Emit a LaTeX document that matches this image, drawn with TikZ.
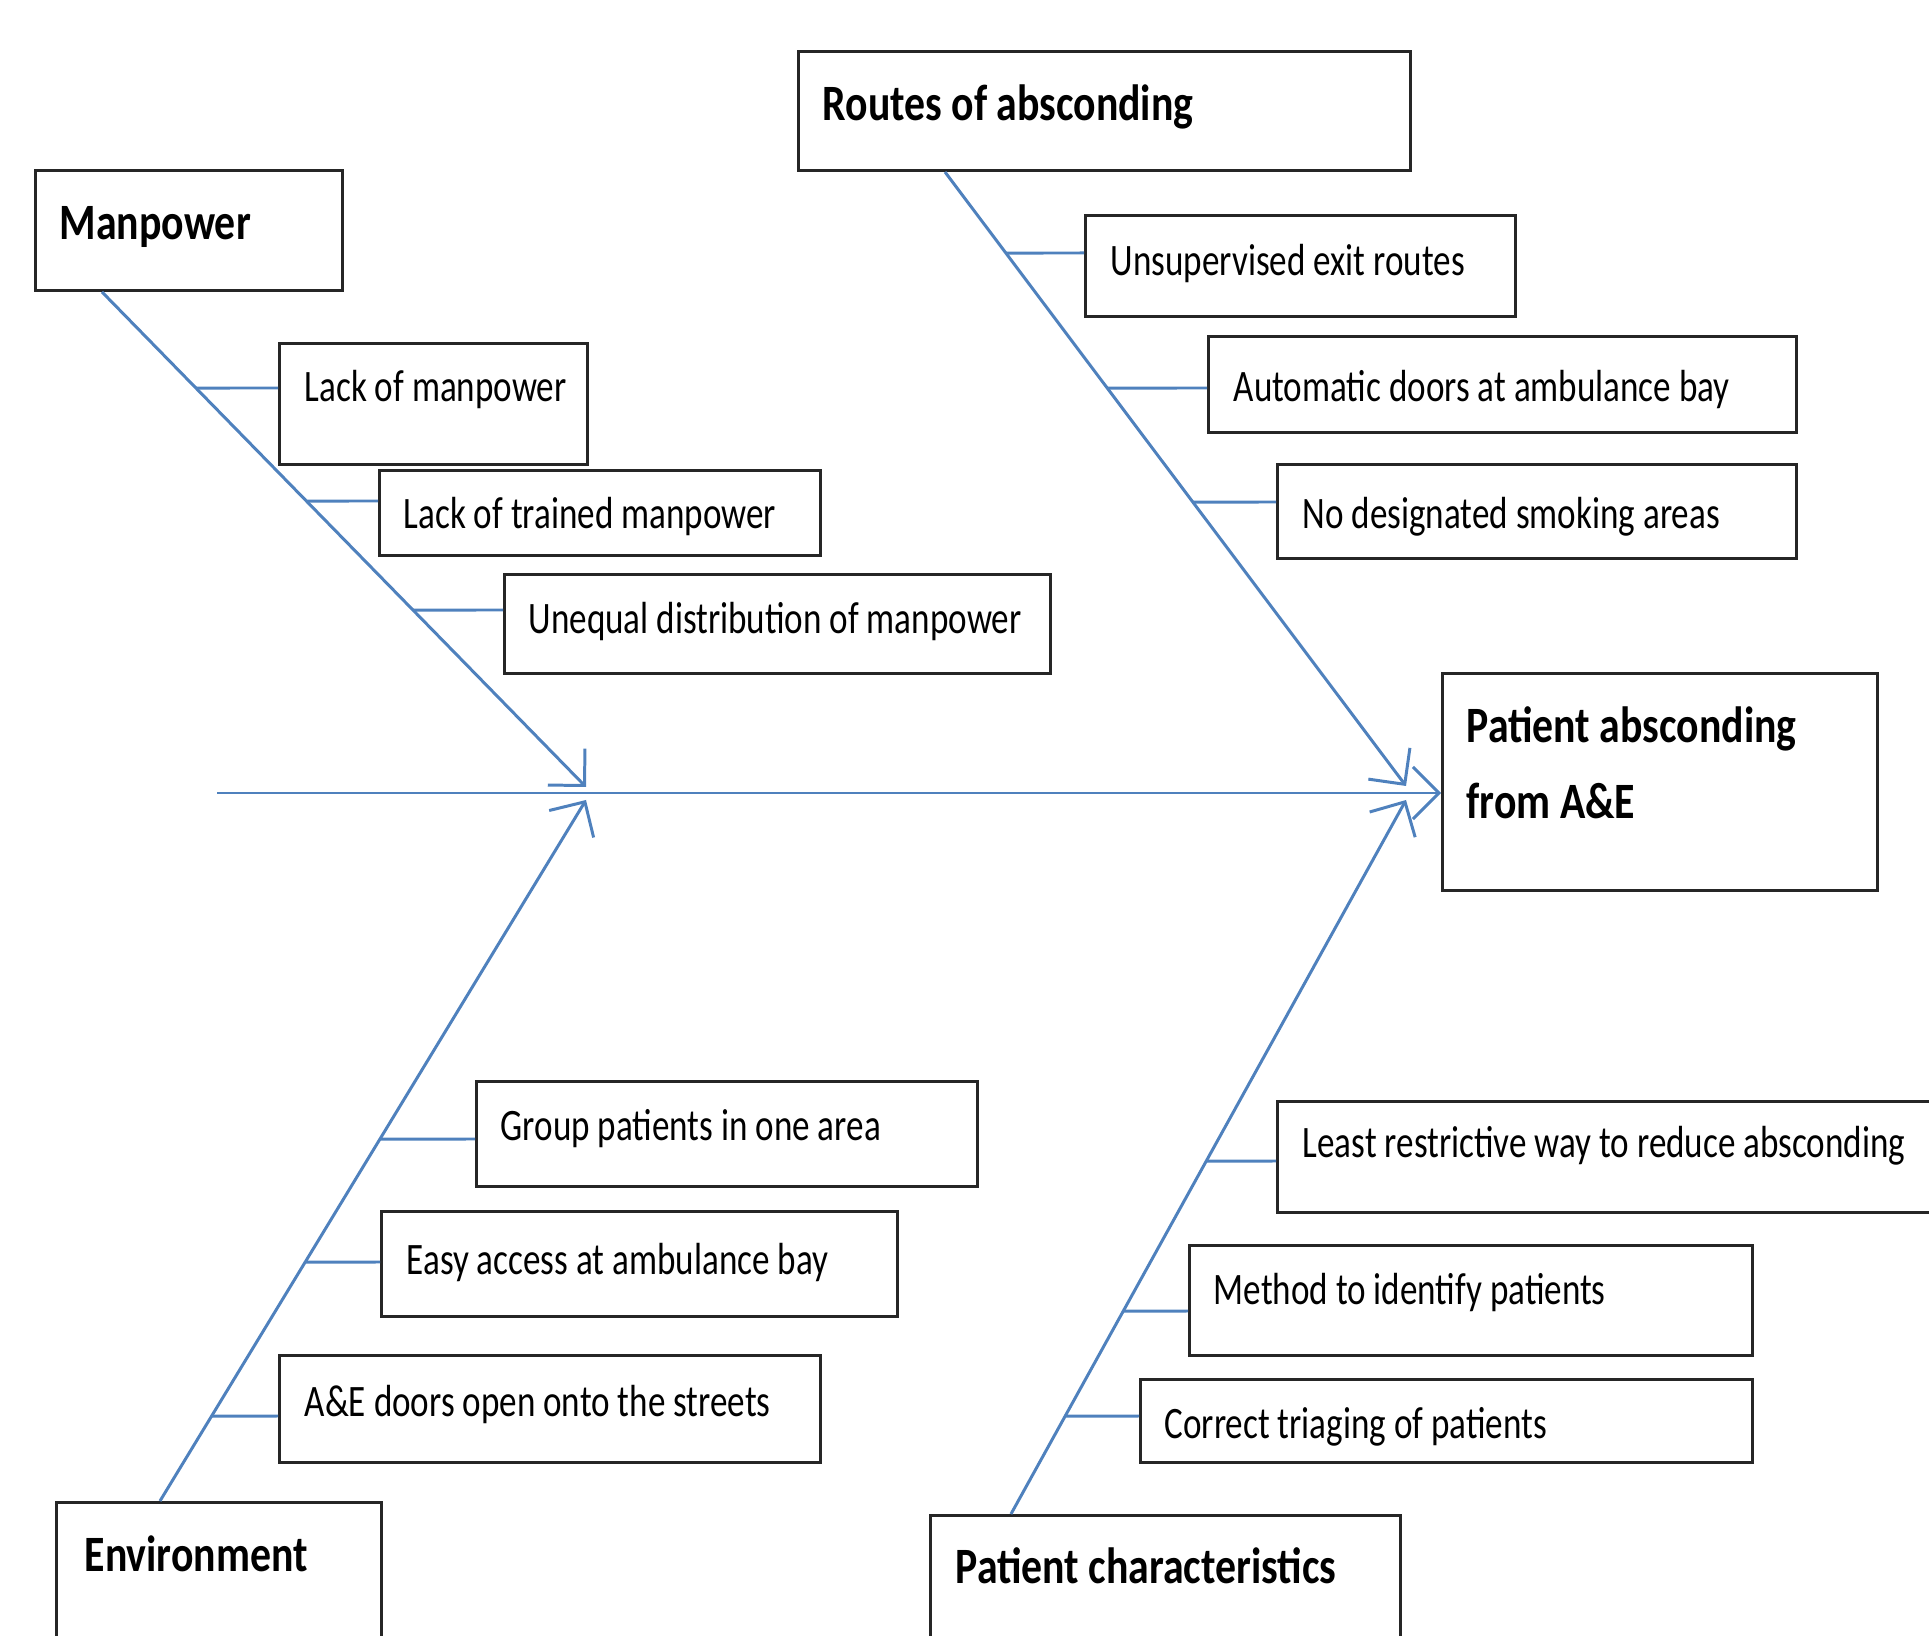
\documentclass[tikz,border=0pt]{standalone}
\usepackage{fontspec}
\setmainfont{Carlito}[FakeStretch=0.78,BoldFeatures={FakeStretch=0.82}]
\usetikzlibrary{arrows.meta,calc}
\definecolor{bonecol}{RGB}{79,129,189}

\begin{document}
\begin{tikzpicture}[x=0.1mm,y=-0.1mm,
  cbox/.style={draw=black!85,line width=0.85pt,anchor=north west,inner sep=0pt},
  ctext/.style={anchor=base west,inner sep=0pt,font=\fontsize{12.8}{15}\selectfont},
  htext/.style={anchor=base west,inner sep=0pt,align=left,font=\fontsize{14.5}{21.5}\selectfont\bfseries},
  bone/.style={draw=bonecol,line width=0.85pt},
  head/.style={bone,-{Straight Barb[length=2.6mm,width=5.2mm]}}]
  \useasboundingbox (0,0) rectangle (1929,1636);
  \clip (0,0) rectangle (1929,1636);

  % effect
  \node[cbox,minimum width=43.5mm,minimum height=21.7mm] (eff) at (1441,672) {};
  \node[htext] (efft) at ($(eff.north west)+(25,146)$) {Patient absconding\\from A\&E};

  % main categories
  \node[cbox,minimum width=30.7mm,minimum height=12mm] (mp) at (34,169) {};
  \node[htext] (mpt) at ($(mp.north west)+(25,71)$) {Manpower};
  \node[cbox,minimum width=61.2mm,minimum height=11.9mm] (rt) at (797,50) {};
  \node[htext] (rtt) at ($(rt.north west)+(25,71)$) {Routes of absconding};
  \node[cbox,minimum width=32.5mm,minimum height=20mm] (en) at (55,1501) {};
  \node[htext] (ent) at ($(en.north west)+(29,70)$) {Environment};
  \node[cbox,minimum width=47mm,minimum height=20mm] (pc) at (929,1514) {};
  \node[htext] (pct) at ($(pc.north west)+(26,69)$) {Patient characteristics};

  % causes
  \node[cbox,minimum width=30.8mm,minimum height=12.1mm] (mp1) at (278,342) {};
  \node[ctext] (mp1t) at ($(mp1.north west)+(26,60)$) {Lack of manpower};
  \node[cbox,minimum width=44.1mm,minimum height=8.5mm] (mp2) at (378,469) {};
  \node[ctext] (mp2t) at ($(mp2.north west)+(25,60)$) {Lack of trained manpower};
  \node[cbox,minimum width=54.6mm,minimum height=9.9mm] (mp3) at (503,573) {};
  \node[ctext] (mp3t) at ($(mp3.north west)+(25,61)$) {Unequal distribution of manpower};

  \node[cbox,minimum width=43mm,minimum height=10.1mm] (rt1) at (1084,214) {};
  \node[ctext] (rt1t) at ($(rt1.north west)+(26,62)$) {Unsupervised exit routes};
  \node[cbox,minimum width=58.8mm,minimum height=9.6mm] (rt2) at (1207,335) {};
  \node[ctext] (rt2t) at ($(rt2.north west)+(26,67)$) {Automatic doors at ambulance bay};
  \node[cbox,minimum width=51.9mm,minimum height=9.4mm] (rt3) at (1276,463) {};
  \node[ctext] (rt3t) at ($(rt3.north west)+(26,66)$) {No designated smoking areas};

  \node[cbox,minimum width=50.1mm,minimum height=10.5mm] (en1) at (475,1080) {};
  \node[ctext] (en1t) at ($(en1.north west)+(25,60)$) {Group patients in one area};
  \node[cbox,minimum width=51.6mm,minimum height=10.5mm] (en2) at (380,1210) {};
  \node[ctext] (en2t) at ($(en2.north west)+(26,64)$) {Easy access at ambulance bay};
  \node[cbox,minimum width=54.1mm,minimum height=10.7mm] (en3) at (278,1354) {};
  \node[ctext] (en3t) at ($(en3.north west)+(26,62)$) {A\&E doors open onto the streets};

  \node[cbox,minimum width=67.4mm,minimum height=11.1mm] (pc1) at (1276,1100) {};
  \node[ctext] (pc1t) at ($(pc1.north west)+(26,57)$) {Least restrictive way to reduce absconding};
  \node[cbox,minimum width=56.3mm,minimum height=11mm] (pc2) at (1188,1244) {};
  \node[ctext] (pc2t) at ($(pc2.north west)+(25,60)$) {Method to identify patients};
  \node[cbox,minimum width=61.2mm,minimum height=8.3mm] (pc3) at (1139,1378) {};
  \node[ctext] (pc3t) at ($(pc3.north west)+(25,60)$) {Correct triaging of patients};

  % spine and bones
  \coordinate (tail) at (217,793);
  \coordinate (mpA) at ($(mp.south west)+(68,0)$);
  \coordinate (mpB) at (586,787);
  \coordinate (enA) at ($(en.north west)+(105,0)$);
  \coordinate (enB) at (586,800);
  \coordinate (rtA) at ($(rt.south west)+(148,0)$);
  \coordinate (rtB) at (1406,786);
  \coordinate (pcA) at ($(pc.north west)+(82,0)$);
  \coordinate (pcB) at (1406,800);

  \draw[head] (tail) -- (tail -| eff.west);
  \draw[head] (mpA) -- (mpB);
  \draw[head] (enA) -- (enB);
  \draw[head] (rtA) -- (rtB);
  \draw[head] (pcA) -- (pcB);

  \draw[bone] (mp1.west |- 0,388) -- (intersection of mpA--mpB and 0,388--1,388);
  \draw[bone] (mp2.west |- 0,501) -- (intersection of mpA--mpB and 0,501--1,501);
  \draw[bone] (mp3.west |- 0,610) -- (intersection of mpA--mpB and 0,610--1,610);
  \draw[bone] (rt1.west |- 0,253) -- (intersection of rtA--rtB and 0,253--1,253);
  \draw[bone] (rt2.west |- 0,388) -- (intersection of rtA--rtB and 0,388--1,388);
  \draw[bone] (rt3.west |- 0,502) -- (intersection of rtA--rtB and 0,502--1,502);
  \draw[bone] (en1.west |- 0,1139) -- (intersection of enA--enB and 0,1139--1,1139);
  \draw[bone] (en2.west |- 0,1262) -- (intersection of enA--enB and 0,1262--1,1262);
  \draw[bone] (en3.west |- 0,1416) -- (intersection of enA--enB and 0,1416--1,1416);
  \draw[bone] (pc1.west |- 0,1161) -- (intersection of pcA--pcB and 0,1161--1,1161);
  \draw[bone] (pc2.west |- 0,1311) -- (intersection of pcA--pcB and 0,1311--1,1311);
  \draw[bone] (pc3.west |- 0,1416) -- (intersection of pcA--pcB and 0,1416--1,1416);
\end{tikzpicture}
\end{document}
